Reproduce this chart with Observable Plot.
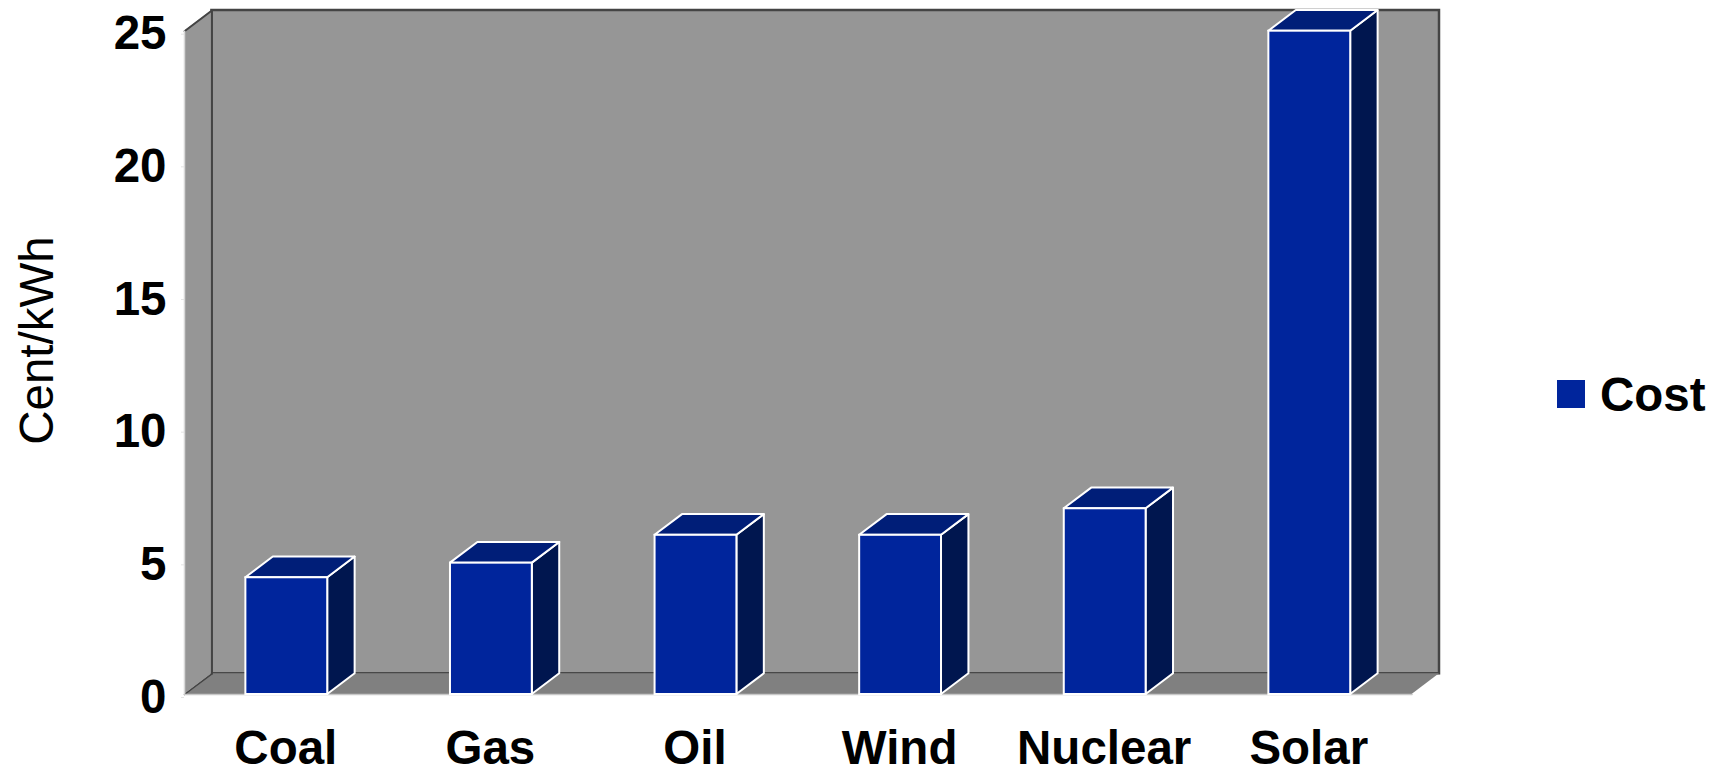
<!DOCTYPE html>
<html>
<head>
<meta charset="utf-8">
<script src="https://cdn.jsdelivr.net/npm/d3@7"></script>
<script src="https://cdn.jsdelivr.net/npm/@observablehq/plot@0.6"></script>
<style>
  html, body { margin: 0; padding: 0; background: #fff; }
  #chart { position: relative; width: 1721px; height: 773px; overflow: hidden; }
  #chart svg { display: block; }
  #legend {
    position: absolute; left: 1557px; top: 372px; height: 44px;
    display: flex; align-items: center; gap: 15px;
    font: bold 47.5px "Liberation Sans", Arial, sans-serif; color: #000;
  }
  #legend i { display: block; width: 28px; height: 28px; background: #00259c; }
</style>
</head>
<body>
<div id="chart"><div id="legend"><i></i><span>Cost</span></div></div>
<script>
// Electricity generation cost per source, in cents per kWh
const sources = ["Coal", "Gas", "Oil", "Wind", "Nuclear", "Solar"];
const costs = [4.4, 4.95, 6, 6, 7, 25];
const yTicks = [0, 5, 10, 15, 20, 25];

// Oblique projection of the box: depth expressed in the units of each axis
const depthX = 0.134;
const depthY = 0.78;
const halfBar = 0.2;
const xMin = -0.5, xMax = 5.5, yMax = 25;

const bars = sources.map((name, i) => ({name, i, v: costs[i]}));
const sideFaces = bars.flatMap(b => [
  {name: b.name, x: b.i + halfBar, y1: 0, y2: b.v},
  {name: b.name, x: b.i + halfBar + depthX, y1: depthY, y2: b.v + depthY}
]);
const topFaces = bars.flatMap(b => [
  {name: b.name, y: b.v, x1: b.i - halfBar, x2: b.i + halfBar},
  {name: b.name, y: b.v + depthY, x1: b.i - halfBar + depthX, x2: b.i + halfBar + depthX}
]);
const leftWall = [
  {x: xMin, y1: 0, y2: yMax},
  {x: xMin + depthX, y1: depthY, y2: yMax + depthY}
];
const floor = [
  {y: 0, x1: xMin, x2: xMax},
  {y: depthY, x1: xMin + depthX, x2: xMax + depthX}
];

const plot = Plot.plot({
  width: 1721,
  height: 773,
  marginLeft: 184,
  marginRight: 282,
  marginTop: 10,
  marginBottom: 79,
  style: {background: "#fff", fontFamily: "'Liberation Sans', Arial, sans-serif"},
  x: {domain: [xMin, xMax + depthX]},
  y: {domain: [0, yMax + depthY]},
  marks: [
    // Back wall, side wall and floor of the chart box
    Plot.rect([{}], {x1: xMin + depthX, x2: xMax + depthX, y1: depthY, y2: yMax + depthY,
      fill: "#969696", stroke: "#444", strokeWidth: 2.5}),
    Plot.areaY(leftWall, {x: "x", y1: "y1", y2: "y2", fill: "#969696"}),
    Plot.areaX(floor, {y: "y", x1: "x1", x2: "x2", fill: "#808080"}),
    Plot.line([[xMin, yMax], [xMin + depthX, yMax + depthY]], {stroke: "#444", strokeWidth: 2}),
    Plot.line([[xMin, 0], [xMin + depthX, depthY]], {stroke: "#444", strokeWidth: 1.5}),
    Plot.line([[xMin + depthX, depthY], [xMin + depthX, yMax + depthY]], {stroke: "#444", strokeWidth: 2}),
    Plot.line([[xMin, 0], [xMin, yMax]], {stroke: "#d8d8d8", strokeWidth: 1.5}),
    Plot.line([[xMin, 0], [xMax, 0]], {stroke: "#c8c8c8", strokeWidth: 1.5}),

    // Three faces of each column
    Plot.areaY(sideFaces, {x: "x", y1: "y1", y2: "y2", z: "name",
      fill: "#00164f", stroke: "#fff", strokeWidth: 2}),
    Plot.areaX(topFaces, {y: "y", x1: "x1", x2: "x2", z: "name",
      fill: "#001e78", stroke: "#fff", strokeWidth: 2}),
    Plot.rect(bars, {x1: d => d.i - halfBar, x2: d => d.i + halfBar, y1: 0, y2: "v",
      fill: "#00259c", stroke: "#fff", strokeWidth: 2}),

    // Axes
    Plot.axisY({ticks: yTicks, tickSize: 3, tickPadding: 15, label: null, dy: 3,
      stroke: "#e4e4e4", fontSize: 47.5, fontWeight: "bold", fill: "#000"}),
    Plot.axisX({ticks: d3.range(sources.length), tickSize: 0, tickPadding: 36, label: null,
      tickFormat: i => sources[i], fontSize: 47.5, fontWeight: "bold", fill: "#000", dx: -1}),
    Plot.text(["Cent/kWh"], {frameAnchor: "left", textAnchor: "middle", rotate: -90, dx: -147, dy: -12,
      fontSize: 47.5, fill: "#000"})
  ]
});
document.getElementById("chart").prepend(plot);
</script>
</body>
</html>
